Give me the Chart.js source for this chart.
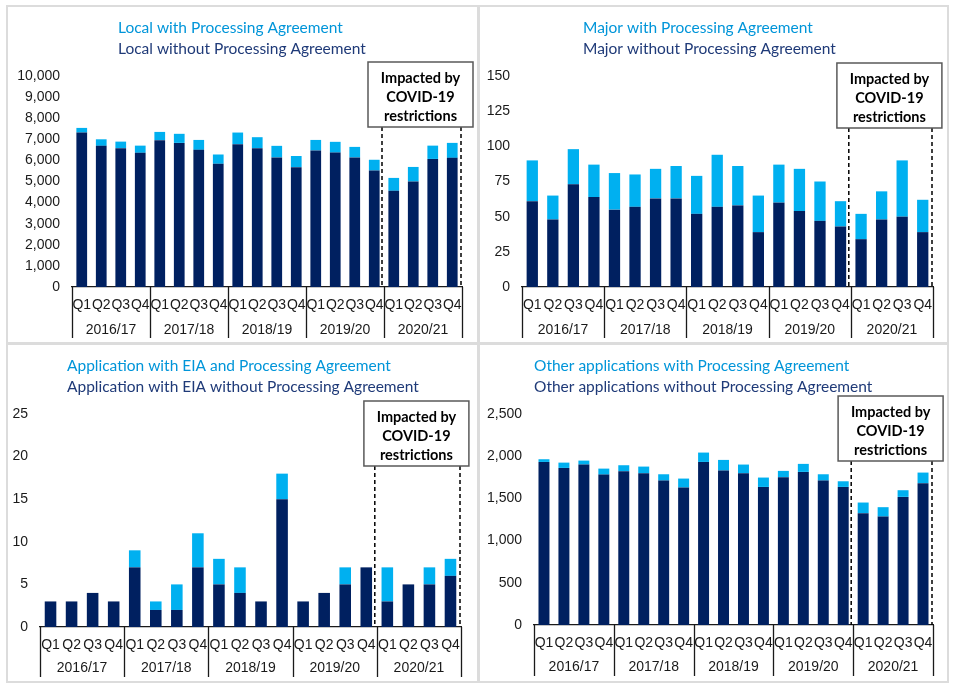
<!DOCTYPE html>
<html>
<head>
<meta charset="utf-8">
<script src="https://cdn.jsdelivr.net/npm/chart.js@4.4.1/dist/chart.umd.min.js"></script>
<style>
  body { margin: 0; background: #fff; }
  #wrap { position: relative; width: 955px; height: 690px; }
  .frame { position: absolute; box-sizing: border-box; border: 2px solid #dcdcdc; }
  canvas { position: absolute; }
</style>
</head>
<body>
<div id="wrap">
  <div class="frame" style="left:6px;top:5px;width:474px;height:340px"></div>
  <div class="frame" style="left:477px;top:5px;width:472px;height:340px"></div>
  <div class="frame" style="left:6px;top:342px;width:474px;height:341px"></div>
  <div class="frame" style="left:477px;top:342px;width:472px;height:341px"></div>
  <canvas id="c1"></canvas>
  <canvas id="c2"></canvas>
  <canvas id="c3"></canvas>
  <canvas id="c4"></canvas>
</div>
<script>
// categories
var quarters = ['Q1','Q2','Q3','Q4','Q1','Q2','Q3','Q4','Q1','Q2','Q3','Q4','Q1','Q2','Q3','Q4','Q1','Q2','Q3','Q4'];
var years = ['2016/17','2017/18','2018/19','2019/20','2020/21'];

// Local
var localWithout = [7320,6690,6580,6360, 6960,6830,6500,5840, 6770,6580,6140,5680, 6470,6370,6140,5520, 4560,5000,6070,6120];
var localWith = [220,310,310,340, 390,430,470,440, 550,520,550,530, 500,510,500,510, 610,690,630,710];

// Major
var majorWithout = [61,48,73,64, 55,57,63,63, 52,57,58,39, 60,54,47,43, 34,48,50,39];
var majorWith = [29,17,25,23, 26,23,21,23, 27,37,28,26, 27,30,28,18, 18,20,40,23];

// EIA
var eiaWithout = [3,3,4,3, 7,2,2,7, 5,4,3,15, 3,4,5,7, 3,5,5,6];
var eiaWith = [0,0,0,0, 2,1,3,4, 3,3,0,3, 0,0,2,0, 4,0,2,2];

// Other
var otherWithout = [1932,1861,1901,1782, 1822,1798,1711,1629, 1932,1830,1798,1636, 1751,1814,1711,1636, 1325,1285,1518,1680];
var otherWith = [32,63,47,71, 71,79,75,106, 111,126,103,111, 75,95,75,67, 126,111,79,126];

var covidText = ['Impacted by', 'COVID-19', 'restrictions'];

var DARK = '#002060';
var LIGHT = '#00b0f0';
var AXIS_FONT = "14px 'Liberation Sans', Arial, sans-serif";

Chart.defaults.font.family = "'Liberation Sans', Arial, sans-serif";
Chart.defaults.font.size = 14;
Chart.defaults.color = '#1a1a1a';

// draws the legend text, year row, group dividers and the covid box
var decor = {
    id: 'decor',
    afterDraw: function(chart, args, o) {
        var ctx = chart.ctx;
        var area = chart.chartArea;
        var x = chart.scales.x;
        var half = (x.getPixelForValue(1) - x.getPixelForValue(0)) / 2;
        ctx.save();

        // legend lines
        ctx.font = '15.5px Lato, sans-serif';
        ctx.textAlign = 'left';
        ctx.textBaseline = 'middle';
        ctx.fillStyle = '#0095d9';
        ctx.fillText(o.titles[0], o.titleX, o.titleY);
        ctx.fillStyle = '#1f3a78';
        ctx.fillText(o.titles[1], o.titleX, o.titleY + 21);

        // group dividers + year labels
        ctx.strokeStyle = '#1a1a1a';
        ctx.lineWidth = 1.3;
        ctx.font = AXIS_FONT;
        ctx.fillStyle = '#1a1a1a';
        ctx.textAlign = 'center';
        for (var g = 0; g <= years.length; g++) {
            var bx = g < years.length ? x.getPixelForValue(g * 4) - half : area.right;
            ctx.beginPath();
            ctx.moveTo(Math.round(bx) + 0.5, area.bottom);
            ctx.lineTo(Math.round(bx) + 0.5, area.bottom + o.divLen);
            ctx.stroke();
            if (g < years.length) {
                var cx = (x.getPixelForValue(g * 4) + x.getPixelForValue(g * 4 + 3)) / 2;
                ctx.fillText(years[g], cx, area.bottom + o.yearOff);
            }
        }

        // covid box
        var gStart = x.getPixelForValue(16) - half;
        var gc = (x.getPixelForValue(16) + x.getPixelForValue(19)) / 2 - 2.5;
        var bw = 105, bh = 65;
        var left = gc - bw / 2;
        ctx.setLineDash([4, 3]);
        ctx.lineWidth = 1.5;
        ctx.strokeStyle = '#000';
        [gStart - 2, area.right - 1].forEach(function(dx) {
            ctx.beginPath();
            ctx.moveTo(dx, o.boxTop + bh);
            ctx.lineTo(dx, area.bottom);
            ctx.stroke();
        });
        ctx.setLineDash([]);
        ctx.fillStyle = '#fff';
        ctx.fillRect(left, o.boxTop, bw, bh);
        ctx.strokeStyle = '#595959';
        ctx.lineWidth = 1.5;
        ctx.strokeRect(left, o.boxTop, bw, bh);
        ctx.fillStyle = '#000';
        ctx.font = 'bold 14.5px Lato, sans-serif';
        covidText.forEach(function(t, i) {
            ctx.fillText(t, gc, o.boxTop + 16 + i * 19);
        });
        ctx.restore();
    }
};

function makePanel(id, rect, plot, yMax, yStep, without, withPA, titles, deco) {
    var cv = document.getElementById(id);
    cv.style.left = rect[0] + 'px';
    cv.style.top = rect[1] + 'px';
    cv.style.width = rect[2] + 'px';
    cv.style.height = rect[3] + 'px';
    cv.width = rect[2];
    cv.height = rect[3];
    var yWidth = plot[0] - rect[0];
    var xHeight = rect[1] + rect[3] - plot[3];
    deco.titles = titles;
    deco.titleX -= rect[0];
    deco.titleY -= rect[1];
    deco.boxTop -= rect[1];
    return new Chart(cv.getContext('2d'), {
        type: 'bar',
        data: {
            labels: quarters,
            datasets: [{
                label: titles[1],
                data: without,
                backgroundColor: DARK,
                barPercentage: 0.55,
                categoryPercentage: 1
            }, {
                label: titles[0],
                data: withPA,
                backgroundColor: LIGHT,
                barPercentage: 0.55,
                categoryPercentage: 1
            }]
        },
        options: {
            responsive: false,
            animation: false,
            layout: {
                padding: {
                    top: plot[1] - rect[1],
                    right: rect[0] + rect[2] - plot[2],
                    left: 0,
                    bottom: 0
                }
            },
            plugins: {
                legend: { display: false },
                tooltip: { enabled: false },
                decor: deco
            },
            scales: {
                x: {
                    stacked: true,
                    grid: { display: false, drawTicks: false },
                    border: { display: true, color: '#1a1a1a', width: 1.3 },
                    ticks: { autoSkip: false, maxRotation: 0, padding: 10 },
                    afterFit: function(s) { s.height = xHeight; }
                },
                y: {
                    stacked: true,
                    min: 0,
                    max: yMax,
                    grid: { display: false, drawTicks: false },
                    border: { display: false },
                    ticks: {
                        stepSize: yStep,
                        padding: 12,
                        callback: function(v) { return v.toLocaleString('en-US'); }
                    },
                    afterFit: function(s) { s.width = yWidth; }
                }
            }
        },
        plugins: [decor]
    });
}

makePanel('c1', [9, 8, 467, 334], [72, 76, 462, 287], 10000, 1000, localWithout, localWith,
    ['Local with Processing Agreement', 'Local without Processing Agreement'],
    { titleX: 118, titleY: 28, boxTop: 62, divLen: 51, yearOff: 43 });

makePanel('c2', [480, 8, 467, 334], [522, 76, 933, 287], 150, 25, majorWithout, majorWith,
    ['Major with Processing Agreement', 'Major without Processing Agreement'],
    { titleX: 583, titleY: 28, boxTop: 63, divLen: 51, yearOff: 43 });

makePanel('c3', [9, 345, 467, 336], [40, 414, 461, 627], 25, 5, eiaWithout, eiaWith,
    ['Application with EIA and Processing Agreement', 'Application with EIA without Processing Agreement'],
    { titleX: 67, titleY: 366, boxTop: 401, divLen: 50, yearOff: 41 });

makePanel('c4', [480, 345, 467, 336], [534, 414, 933, 625], 2500, 500, otherWithout, otherWith,
    ['Other applications with Processing Agreement', 'Other applications without Processing Agreement'],
    { titleX: 534, titleY: 366, boxTop: 396, divLen: 51, yearOff: 42 });
</script>
</body>
</html>
